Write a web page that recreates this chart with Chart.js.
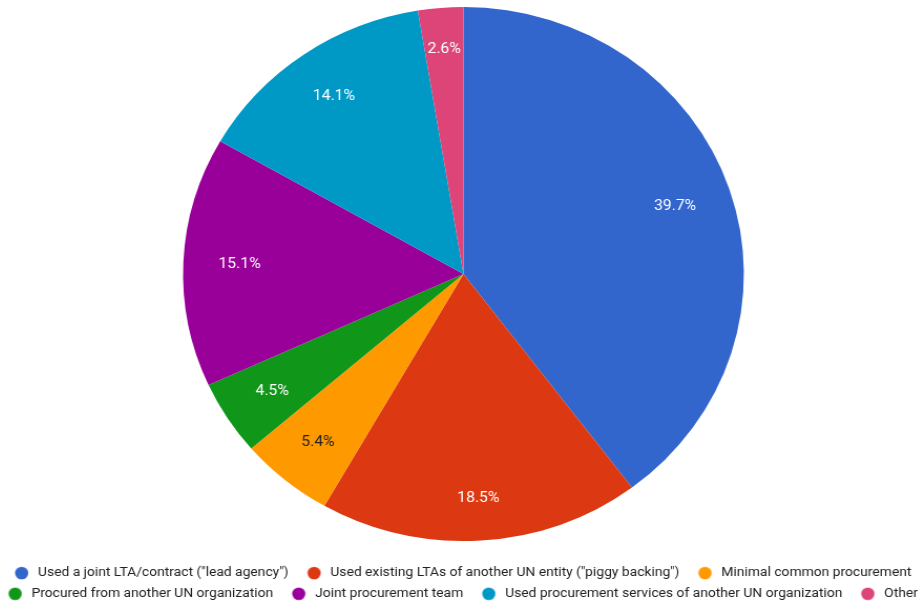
<!DOCTYPE html>
<html>
<head>
<meta charset="utf-8">
<script src="https://cdn.jsdelivr.net/npm/chart.js@4.4.1/dist/chart.umd.min.js"></script>
<style>
    html, body { margin: 0; padding: 0; background: #fff; overflow: hidden; }
    #wrap {
        width: 920px;
        height: 605px;
        transform: translateX(-25.4px) scaleX(1.0502);
        transform-origin: 0 0;
    }
</style>
</head>
<body>
<div id="wrap"><canvas id="procChart"></canvas></div>
<script>
const categories = [
    'Used a joint LTA/contract ("lead agency")',
    'Used existing LTAs of another UN entity ("piggy backing")',
    'Minimal common procurement',
    'Procured from another UN organization',
    'Joint procurement team',
    'Used procurement services of another UN organization',
    'Other'
];
const shares = [39.7, 18.5, 5.4, 4.5, 15.1, 14.1, 2.6];
const sliceColors = ['#3366cc', '#dc3912', '#ff9900', '#109618', '#990099', '#0099c6', '#dd4477'];

// legend markers: round dot sitting right of centre, leaves a gap before each item
function makeDot(color) {
    const c = document.createElement('canvas');
    c.width = 28;
    c.height = 14;
    const g = c.getContext('2d');
    g.fillStyle = color;
    g.beginPath();
    g.arc(17.9, 7, 6.3, 0, Math.PI * 2);
    g.fill();
    return c;
}
const dots = sliceColors.map(makeDot);

// dark text on light slices, white on the rest
function textColorFor(hex) {
    const r = parseInt(hex.slice(1, 3), 16);
    const g = parseInt(hex.slice(3, 5), 16);
    const b = parseInt(hex.slice(5, 7), 16);
    return (0.299 * r + 0.587 * g + 0.114 * b) > 150 ? '#222222' : '#ffffff';
}

// nudge the pie up a little and line it up with the legend
const pieShift = {
    id: 'pieShift',
    afterLayout(chart) {
        const a = chart.chartArea;
        a.top -= 11;
        a.left += 5.5;
        a.right += 5.5;
        a.height = a.bottom - a.top;
    }
};

// percentage text inside each slice, pushed out until its box reaches the same ring
const sliceLabels = {
    id: 'sliceLabels',
    afterDatasetsDraw(chart) {
        const ctx = chart.ctx;
        const meta = chart.getDatasetMeta(0);
        ctx.save();
        ctx.font = '15px Roboto';
        ctx.textAlign = 'center';
        ctx.textBaseline = 'middle';
        meta.data.forEach(function (arc, i) {
            const p = arc.getProps(['x', 'y', 'startAngle', 'endAngle', 'outerRadius'], true);
            const txt = shares[i].toFixed(1) + '%';
            const w = ctx.measureText(txt).width;
            const mid = (p.startAngle + p.endAngle) / 2;
            const cos = Math.cos(mid), sin = Math.sin(mid);
            const reach = Math.abs(cos) * w / 2 + Math.abs(sin) * 7.5;
            const r = p.outerRadius * 0.876 - reach;
            ctx.fillStyle = textColorFor(sliceColors[i]);
            ctx.fillText(txt, p.x + cos * r, p.y + sin * r);
        });
        ctx.restore();
    }
};

const ctx = document.getElementById('procChart').getContext('2d');

new Chart(ctx, {
    type: 'pie',
    data: {
        labels: categories,
        datasets: [{
            data: shares,
            backgroundColor: sliceColors,
            borderWidth: 0,
            radius: 267
        }]
    },
    options: {
        responsive: true,
        maintainAspectRatio: false,
        animation: false,
        plugins: {
            legend: {
                position: 'bottom',
                maxHeight: 46,
                labels: {
                    usePointStyle: true,
                    pointStyleWidth: 25.75,
                    boxHeight: 9,
                    padding: 7.5,
                    color: '#222222',
                    font: { family: 'Roboto', size: 13.2 },
                    generateLabels(chart) {
                        return categories.map(function (label, i) {
                            return {
                                text: label,
                                fillStyle: sliceColors[i],
                                strokeStyle: sliceColors[i],
                                lineWidth: 0,
                                pointStyle: dots[i],
                                fontColor: '#222222',
                                hidden: false,
                                index: i
                            };
                        });
                    }
                }
            },
            tooltip: { enabled: false }
        }
    },
    plugins: [pieShift, sliceLabels]
});
</script>
</body>
</html>
